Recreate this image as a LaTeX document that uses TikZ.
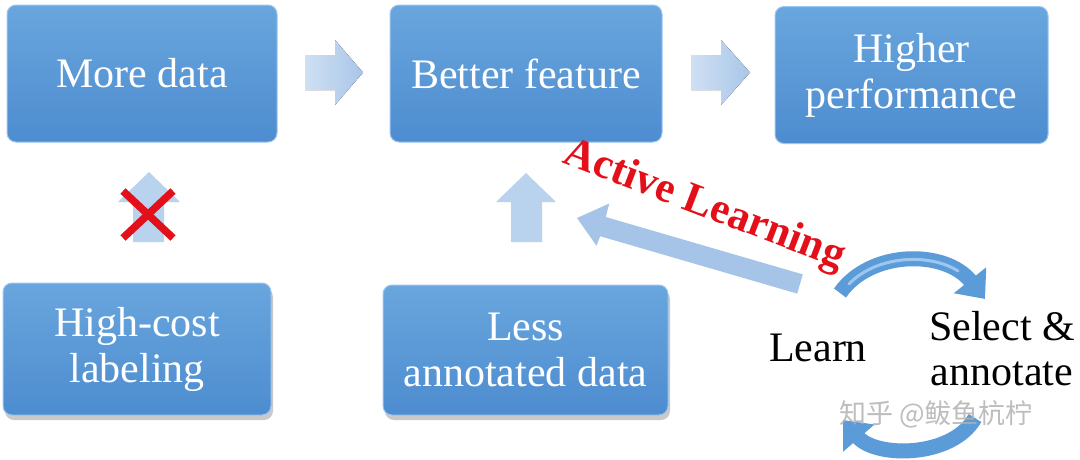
\documentclass[tikz,border=0pt]{standalone}
\usepackage{fontspec}
\setmainfont{Liberation Serif}
\newfontfamily\cjkfont{Noto Sans CJK SC}
\usetikzlibrary{arrows.meta,shadows,calc}
\definecolor{boxtop}{HTML}{69A6DE}
\definecolor{boxbot}{HTML}{4D8CCF}
\definecolor{boxline}{HTML}{9CC6EE}
\definecolor{arrlight}{HTML}{CFE0F3}
\definecolor{arrdark}{HTML}{A9C6E8}
\definecolor{uparr}{HTML}{B9D2EE}
\definecolor{diagarr}{HTML}{A5C4E7}
\definecolor{cyc}{HTML}{5B9BD8}
\definecolor{cycdark}{HTML}{3F7CBF}
\definecolor{cyclight}{HTML}{9CC7F0}
\definecolor{alred}{HTML}{E3101A}
\tikzset{
  bluebox/.style={rounded corners=9pt, top color=boxtop, bottom color=boxbot,
    draw=boxline, line width=1pt, text=white, align=center, inner sep=0pt,
    font=\fontsize{42}{46}\selectfont},
  shadowbox/.style={bluebox, drop shadow={shadow xshift=2pt, shadow yshift=-5pt, opacity=0.35, fill=black!60}},
  blockarrow/.style={left color=arrlight, right color=arrdark},
  uparrow/.style={fill=uparr},
  plaintext/.style={inner sep=0pt, align=center, font=\fontsize{42}{45}\selectfont},
  cycarrow/.style={draw=cyc, line width=15pt, -{Triangle[length=24pt, width=40pt]}},
  cychl/.style={draw=cyclight, line width=3pt, line cap=round},
}
\begin{document}
\begin{tikzpicture}[x=1pt, y=-1pt]
\useasboundingbox (0,0) rectangle (1080,459);
\fill[white] (0,0) rectangle (1080,459);

% boxes
\node[bluebox, minimum width=270pt, minimum height=137pt] (more) at (142,73.5) {More data};
\node[bluebox, minimum width=272pt, minimum height=137pt] (better) at (526,73.5) {Better feature};
\node[bluebox, minimum width=273pt, minimum height=137pt] (higher) at (911.5,75) {Higher\\performance};
\node[shadowbox, minimum width=268pt, minimum height=132pt] (highcost) at (137,349) {High-cost\\labeling};
\node[shadowbox, minimum width=285pt, minimum height=130pt] (less) at (525.5,350) {Less\\annotated data};

% right block arrows
\fill[blockarrow] (305,55) -- (335,55) -- (335,40) -- (363,72.5) -- (335,105) -- (335,90) -- (305,90) -- cycle;
\fill[blockarrow] (691,55) -- (721,55) -- (721,40) -- (750,72.5) -- (721,105) -- (721,90) -- (691,90) -- cycle;

% up arrows
\fill[uparrow] (133,242) -- (133,202) -- (118,202) -- (149,172) -- (180,202) -- (164,202) -- (164,242) -- cycle;
\fill[uparrow] (511,242) -- (511,202) -- (496,202) -- (526,173) -- (556,202) -- (542,202) -- (542,242) -- cycle;

% red cross
\coordinate (x1) at (123,191);
\coordinate (x2) at (173,238);
\coordinate (x3) at (173,191);
\coordinate (x4) at (123,238);
\draw[alred, line width=7.5pt] (x1) -- (x2);
\draw[alred, line width=7.5pt] (x3) -- (x4);

% diagonal arrow
\fill[fill=diagarr] (577,218) -- (609.3,203.5) -- (605.7,217.0) -- (802.8,274.4) -- (797.2,293.6) -- (600.1,236.2) -- (596.5,245.7) -- cycle;

% Active Learning
\node[inner sep=0pt, text=alred, font=\bfseries\fontsize{43}{43}\selectfont, rotate=-21] (al) at (704,206) {Active Learning};

% cycle texts
\node[plaintext] (learn) at (818,348) {Learn};
\node[plaintext] (select) at (1002,349) {Select \&\\annotate};

% cycle arrows
\coordinate (c1s) at (840,293);
\coordinate (c1e) at (985,299);
\draw[cycarrow] (c1s) .. controls (870,250) and (945,249) .. (c1e);
\draw[cychl] (849,284) .. controls (877,255) and (930,253) .. (958,271);
\coordinate (c2s) at (975,418);
\coordinate (c2e) at (843,420);
\draw[cycarrow] (c2s) .. controls (952,458) and (876,458) .. (c2e);

% watermark
\node[inner sep=0pt, text=gray!60, opacity=0.85, font=\cjkfont\fontsize{27}{27}\selectfont] (wm) at (936,414) {知乎\ @鲅鱼杭柠};
\end{tikzpicture}
\end{document}
